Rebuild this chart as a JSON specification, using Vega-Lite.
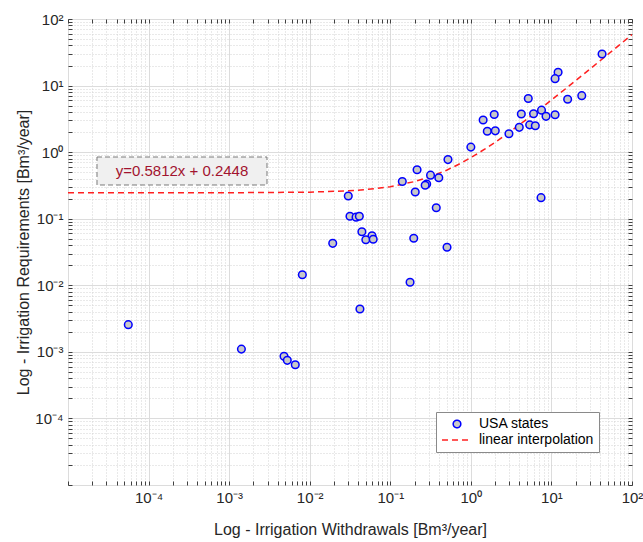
{
  "$schema": "https://vega.github.io/schema/vega-lite/v6.json",
  "width": 564,
  "height": 466,
  "autosize": {"type": "none"},
  "padding": {"left": 68, "top": 19, "right": 11, "bottom": 57},
  "background": "white",
  "config": {
    "font": "Liberation Sans",
    "view": {"stroke": "#5a5a5a", "strokeWidth": 1}
  },
  "datasets": {
    "pts": [
      {"w": 42.5, "r": 29.8, "series": "USA states"},
      {"w": 12.1, "r": 15.8, "series": "USA states"},
      {"w": 11.1, "r": 12.7, "series": "USA states"},
      {"w": 5.16, "r": 6.4, "series": "USA states"},
      {"w": 15.9, "r": 6.24, "series": "USA states"},
      {"w": 23.8, "r": 7.05, "series": "USA states"},
      {"w": 7.53, "r": 4.27, "series": "USA states"},
      {"w": 6.0, "r": 3.78, "series": "USA states"},
      {"w": 4.23, "r": 3.74, "series": "USA states"},
      {"w": 8.57, "r": 3.45, "series": "USA states"},
      {"w": 11.1, "r": 3.65, "series": "USA states"},
      {"w": 1.42, "r": 3.04, "series": "USA states"},
      {"w": 1.95, "r": 3.67, "series": "USA states"},
      {"w": 1.6, "r": 2.06, "series": "USA states"},
      {"w": 2.01, "r": 2.09, "series": "USA states"},
      {"w": 2.97, "r": 1.89, "series": "USA states"},
      {"w": 3.99, "r": 2.36, "series": "USA states"},
      {"w": 5.37, "r": 2.57, "series": "USA states"},
      {"w": 6.31, "r": 2.49, "series": "USA states"},
      {"w": 1.0, "r": 1.19, "series": "USA states"},
      {"w": 0.52, "r": 0.773, "series": "USA states"},
      {"w": 0.215, "r": 0.543, "series": "USA states"},
      {"w": 0.316, "r": 0.451, "series": "USA states"},
      {"w": 0.4, "r": 0.412, "series": "USA states"},
      {"w": 0.141, "r": 0.362, "series": "USA states"},
      {"w": 0.283, "r": 0.332, "series": "USA states"},
      {"w": 0.271, "r": 0.318, "series": "USA states"},
      {"w": 0.204, "r": 0.252, "series": "USA states"},
      {"w": 0.0301, "r": 0.219, "series": "USA states"},
      {"w": 7.43, "r": 0.207, "series": "USA states"},
      {"w": 0.372, "r": 0.146, "series": "USA states"},
      {"w": 0.0316, "r": 0.109, "series": "USA states"},
      {"w": 0.0376, "r": 0.1055, "series": "USA states"},
      {"w": 0.0413, "r": 0.1087, "series": "USA states"},
      {"w": 0.0444, "r": 0.0636, "series": "USA states"},
      {"w": 0.0593, "r": 0.0556, "series": "USA states"},
      {"w": 0.0497, "r": 0.0482, "series": "USA states"},
      {"w": 0.0614, "r": 0.0491, "series": "USA states"},
      {"w": 0.0193, "r": 0.0427, "series": "USA states"},
      {"w": 0.1955, "r": 0.0509, "series": "USA states"},
      {"w": 0.506, "r": 0.0372, "series": "USA states"},
      {"w": 0.176, "r": 0.0111, "series": "USA states"},
      {"w": 0.042, "r": 0.0044, "series": "USA states"},
      {"w": 0.0081, "r": 0.0144, "series": "USA states"},
      {"w": 0.000056, "r": 0.00256, "series": "USA states"},
      {"w": 0.00142, "r": 0.0011, "series": "USA states"},
      {"w": 0.0048, "r": 0.000857, "series": "USA states"},
      {"w": 0.00527, "r": 0.000746, "series": "USA states"},
      {"w": 0.00662, "r": 0.000641, "series": "USA states"}
    ],
    "fit": [
      {"w": 0.00001, "r": 0.24481, "series": "linear interpolation"},
      {"w": 0.001, "r": 0.24538, "series": "linear interpolation"},
      {"w": 0.01, "r": 0.25061, "series": "linear interpolation"},
      {"w": 0.03, "r": 0.26224, "series": "linear interpolation"},
      {"w": 0.05, "r": 0.27386, "series": "linear interpolation"},
      {"w": 0.1, "r": 0.30292, "series": "linear interpolation"},
      {"w": 0.2, "r": 0.36104, "series": "linear interpolation"},
      {"w": 0.3, "r": 0.41916, "series": "linear interpolation"},
      {"w": 0.5, "r": 0.5354, "series": "linear interpolation"},
      {"w": 0.7, "r": 0.65164, "series": "linear interpolation"},
      {"w": 1, "r": 0.826, "series": "linear interpolation"},
      {"w": 1.5, "r": 1.1166, "series": "linear interpolation"},
      {"w": 2, "r": 1.4072, "series": "linear interpolation"},
      {"w": 3, "r": 1.9884, "series": "linear interpolation"},
      {"w": 5, "r": 3.1508, "series": "linear interpolation"},
      {"w": 7, "r": 4.3132, "series": "linear interpolation"},
      {"w": 10, "r": 6.0568, "series": "linear interpolation"},
      {"w": 15, "r": 8.9628, "series": "linear interpolation"},
      {"w": 20, "r": 11.8688, "series": "linear interpolation"},
      {"w": 30, "r": 17.6808, "series": "linear interpolation"},
      {"w": 50, "r": 29.3048, "series": "linear interpolation"},
      {"w": 70, "r": 40.9288, "series": "linear interpolation"},
      {"w": 100, "r": 58.3648, "series": "linear interpolation"}
    ],
    "note": [
      {"x1": 0.0000229, "x2": 0.00295, "y1": 0.321, "y2": 0.845, "xc": 0.00026, "yc": 0.521, "label": "y=0.5812x + 0.2448"}
    ]
  },
  "layer": [
    {
      "data": {"name": "note"},
      "mark": {"type": "rect", "fill": "#f0f0f0", "stroke": "#7a7a7a", "strokeWidth": 1, "strokeDash": [5, 3]},
      "encoding": {
        "x": {"field": "x1", "type": "quantitative", "scale": {"type": "log", "domain": [0.00001, 100], "nice": false}, "axis": null},
        "x2": {"field": "x2"},
        "y": {"field": "y1", "type": "quantitative", "scale": {"type": "log", "domain": [0.00001, 100], "nice": false}, "axis": null},
        "y2": {"field": "y2"}
      }
    },
    {
      "data": {"name": "note"},
      "mark": {"type": "text", "color": "#A2142F", "fontSize": 15, "align": "center", "baseline": "middle", "font": "Liberation Sans"},
      "encoding": {
        "x": {"field": "xc", "type": "quantitative", "axis": null},
        "y": {"field": "yc", "type": "quantitative", "axis": null},
        "text": {"field": "label"}
      }
    },
    {
      "data": {"name": "fit"},
      "mark": {"type": "line", "strokeWidth": 1.5, "clip": true},
      "encoding": {
        "x": {
          "field": "w", "type": "quantitative",
          "axis": {"orient": "top", "values": [0.00001,0.00002,0.00003,0.00004,0.00005,0.00006,0.00007,0.00008,0.00009,0.0001,0.0002,0.0003,0.0004,0.0005,0.0006,0.0007,0.0008,0.0009,0.001,0.002,0.003,0.004,0.005,0.006,0.007,0.008,0.009,0.01,0.02,0.03,0.04,0.05,0.06,0.07,0.08,0.09,0.1,0.2,0.3,0.4,0.5,0.6,0.7,0.8,0.9,1,2,3,4,5,6,7,8,9,10,20,30,40,50,60,70,80,90,100], "labels": false, "grid": false, "domain": false, "title": null, "tickSize": -4, "tickColor": "#404040"}
        },
        "y": {
          "field": "r", "type": "quantitative",
          "axis": {"orient": "right", "values": [0.00001,0.00002,0.00003,0.00004,0.00005,0.00006,0.00007,0.00008,0.00009,0.0001,0.0002,0.0003,0.0004,0.0005,0.0006,0.0007,0.0008,0.0009,0.001,0.002,0.003,0.004,0.005,0.006,0.007,0.008,0.009,0.01,0.02,0.03,0.04,0.05,0.06,0.07,0.08,0.09,0.1,0.2,0.3,0.4,0.5,0.6,0.7,0.8,0.9,1,2,3,4,5,6,7,8,9,10,20,30,40,50,60,70,80,90,100], "labels": false, "grid": false, "domain": false, "title": null, "tickSize": -4, "tickColor": "#404040"}
        },
        "stroke": {"field": "series", "type": "nominal", "scale": {"domain": ["USA states", "linear interpolation"], "range": ["#0000ff", "#ff2020"]}, "legend": {"title": null}},
        "strokeDash": {"field": "series", "type": "nominal", "scale": {"domain": ["USA states", "linear interpolation"], "range": [[1, 0], [6, 4]]}, "legend": {"title": null}}
      }
    },
    {
      "data": {"name": "pts"},
      "mark": {"type": "point", "filled": false, "fill": "#c8c8c8", "fillOpacity": 1, "strokeWidth": 1.5, "opacity": 1},
      "encoding": {
        "x": {
          "field": "w", "type": "quantitative",
          "scale": {"type": "log", "domain": [0.00001, 100], "nice": false},
          "axis": {
            "orient": "bottom",
            "values": [0.00001,0.00002,0.00003,0.00004,0.00005,0.00006,0.00007,0.00008,0.00009,0.0001,0.0002,0.0003,0.0004,0.0005,0.0006,0.0007,0.0008,0.0009,0.001,0.002,0.003,0.004,0.005,0.006,0.007,0.008,0.009,0.01,0.02,0.03,0.04,0.05,0.06,0.07,0.08,0.09,0.1,0.2,0.3,0.4,0.5,0.6,0.7,0.8,0.9,1,2,3,4,5,6,7,8,9,10,20,30,40,50,60,70,80,90,100],
            "labelExpr": "datum.value == 100 ? '10²' : datum.value == 10 ? '10¹' : datum.value == 1 ? '10⁰' : datum.value == 0.1 ? '10⁻¹' : datum.value == 0.01 ? '10⁻²' : datum.value == 0.001 ? '10⁻³' : datum.value == 0.0001 ? '10⁻⁴' : ''",
            "labelOverlap": false, "labelFlush": false, "labelFontSize": 15, "labelColor": "#262626", "labelFont": "Liberation Sans", "labelPadding": 9,
            "tickSize": -4, "tickColor": "#404040", "domain": false,
            "grid": true,
            "gridColor": {"condition": {"test": "indexof([0.00001,0.0001,0.001,0.01,0.1,1,10,100], datum.value) >= 0", "value": "#dcdcdc"}, "value": "#d2d2d2"},
            "gridDash": {"condition": {"test": "indexof([0.00001,0.0001,0.001,0.01,0.1,1,10,100], datum.value) >= 0", "value": []}, "value": [1, 2]},
            "title": "Log - Irrigation Withdrawals [Bm³/year]", "titleFontSize": 16, "titleFontWeight": "normal", "titleColor": "#262626", "titleFont": "Liberation Sans", "titlePadding": 16
          }
        },
        "y": {
          "field": "r", "type": "quantitative",
          "scale": {"type": "log", "domain": [0.00001, 100], "nice": false},
          "axis": {
            "orient": "left",
            "values": [0.00001,0.00002,0.00003,0.00004,0.00005,0.00006,0.00007,0.00008,0.00009,0.0001,0.0002,0.0003,0.0004,0.0005,0.0006,0.0007,0.0008,0.0009,0.001,0.002,0.003,0.004,0.005,0.006,0.007,0.008,0.009,0.01,0.02,0.03,0.04,0.05,0.06,0.07,0.08,0.09,0.1,0.2,0.3,0.4,0.5,0.6,0.7,0.8,0.9,1,2,3,4,5,6,7,8,9,10,20,30,40,50,60,70,80,90,100],
            "labelExpr": "datum.value == 100 ? '10²' : datum.value == 10 ? '10¹' : datum.value == 1 ? '10⁰' : datum.value == 0.1 ? '10⁻¹' : datum.value == 0.01 ? '10⁻²' : datum.value == 0.001 ? '10⁻³' : datum.value == 0.0001 ? '10⁻⁴' : ''",
            "labelOverlap": false, "labelFlush": false, "labelFontSize": 15, "labelColor": "#262626", "labelFont": "Liberation Sans", "labelPadding": 9,
            "tickSize": -4, "tickColor": "#404040", "domain": false,
            "grid": true,
            "gridColor": {"condition": {"test": "indexof([0.00001,0.0001,0.001,0.01,0.1,1,10,100], datum.value) >= 0", "value": "#dcdcdc"}, "value": "#d2d2d2"},
            "gridDash": {"condition": {"test": "indexof([0.00001,0.0001,0.001,0.01,0.1,1,10,100], datum.value) >= 0", "value": []}, "value": [1, 2]},
            "title": "Log - Irrigation Requirements [Bm³/year]", "titleFontSize": 16, "titleFontWeight": "normal", "titleColor": "#262626", "titleFont": "Liberation Sans", "titlePadding": 3
          }
        },
        "shape": {"field": "series", "type": "nominal", "scale": {"domain": ["USA states", "linear interpolation"], "range": ["circle", "stroke"]}, "legend": {"title": null}},
        "size": {"field": "series", "type": "ordinal", "scale": {"domain": ["USA states", "linear interpolation"], "range": [58, 900]}, "legend": {"title": null}},
        "stroke": {
          "field": "series", "type": "nominal",
          "scale": {"domain": ["USA states", "linear interpolation"], "range": ["#0000ff", "#ff2020"]},
          "legend": {
            "title": null,
            "orient": "bottom-right",
            "offset": 33,
            "fillColor": "white",
            "strokeColor": "#8a8a8a",
            "padding": 5,
            "rowPadding": 2,
            "clipHeight": 14,
            "labelOffset": 6,
            "labelFontSize": 14,
            "labelFont": "Liberation Sans",
            "labelColor": "#000000",
            "symbolStrokeWidth": 1.5
          }
        }
      }
    }
  ]
}
